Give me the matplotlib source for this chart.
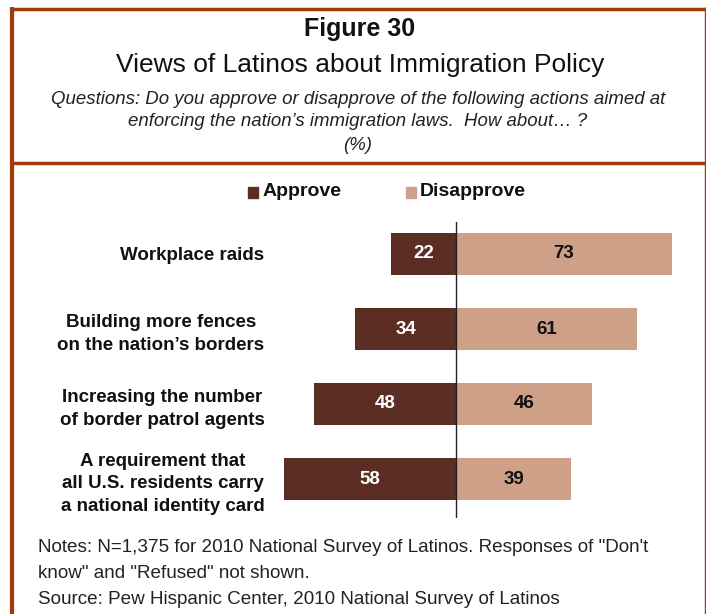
import matplotlib
matplotlib.use("Agg")
import matplotlib.pyplot as plt
from matplotlib.lines import Line2D
from matplotlib.patches import Rectangle

# Survey results (percent)
categories = [
    "Workplace raids",
    "Building more fences\non the nation\u2019s borders",
    "Increasing the number\nof border patrol agents",
    "A requirement that\nall U.S. residents carry\na national identity card",
]
approve = [22, 34, 48, 58]
disapprove = [73, 61, 46, 39]
series_names = ["Approve", "Disapprove"]

APPROVE_COLOR = "#5C2E23"
DISAPPROVE_COLOR = "#CDA087"
FRAME_COLOR = "#A33A0C"
BASE = "Liberation Sans"

W, H = 706, 614
fig = plt.figure(figsize=(W / 100, H / 100), dpi=100)
fig.patch.set_facecolor("white")


def fx(x):
    return x / W


def fy(y):
    return 1 - y / H


# Frame around the figure
frame = dict(color=FRAME_COLOR, transform=fig.transFigure, solid_capstyle="butt")
fig.add_artist(Line2D([fx(12), fx(12)], [fy(7), 0], lw=3.0, **frame))
fig.add_artist(Line2D([fx(10.5), fx(706)], [fy(8.5), fy(8.5)], lw=2.5, **frame))
fig.add_artist(Line2D([fx(704.5), fx(704.5)], [fy(7), 0], lw=1.0, **frame))
fig.add_artist(Line2D([fx(10.5), fx(706)], [fy(162.5), fy(162.5)], lw=2.5, **frame))

# Header text
fig.text(fx(360), fy(29), "Figure 30", ha="center", va="center",
         fontsize=18, fontweight="bold", family=BASE, color="#111111")
fig.text(fx(360), fy(65), "Views of Latinos about Immigration Policy", ha="center",
         va="center", fontsize=19, family=BASE, color="#111111")
fig.text(fx(358), fy(99), "Questions: Do you approve or disapprove of the following actions aimed at",
         ha="center", va="center", fontsize=13.4, style="italic", family=BASE, color="#222222")
fig.text(fx(358), fy(122), "enforcing the nation\u2019s immigration laws.  How about\u2026 ?",
         ha="center", va="center", fontsize=13.4, style="italic", family=BASE, color="#222222")
fig.text(fx(358), fy(145), "(%)", ha="center", va="center", fontsize=13.4,
         style="italic", family=BASE, color="#222222")

# Bar chart axes: zero at x=456, about 2.96 px per percentage point
ax_left, ax_right = 270, 690
ax_top, ax_bottom = 222, 518
ax = fig.add_axes([fx(ax_left), fy(ax_bottom), (ax_right - ax_left) / W, (ax_bottom - ax_top) / H])
scale = 2.96
zero = 456
ax.set_xlim(-(zero - ax_left) / scale, (ax_right - zero) / scale)
ax.set_ylim((ax_bottom - 254) / 75, (ax_top - 254) / 75)

ypos = list(range(len(categories)))
ax.barh(ypos, [-a for a in approve], height=0.56, color=APPROVE_COLOR, label=series_names[0])
ax.barh(ypos, disapprove, height=0.56, color=DISAPPROVE_COLOR, label=series_names[1])
ax.axvline(0, color="#222222", lw=1.0)

for y, a, d in zip(ypos, approve, disapprove):
    ax.text(-a / 2, y, str(a), ha="center", va="center", color="white",
            fontsize=13.5, fontweight="bold", family=BASE)
    ax.text(d / 2, y, str(d), ha="center", va="center", color="#111111",
            fontsize=13.5, fontweight="bold", family=BASE)

ax.set_yticks(ypos)
ax.set_yticklabels(categories, fontsize=13.5, fontweight="bold", family=BASE,
                   multialignment="center", color="#111111", linespacing=1.45)
ax.tick_params(axis="y", length=0, pad=4)
ax.set_xticks([])
for s in ax.spines.values():
    s.set_visible(False)
ax.patch.set_alpha(0)

# Legend
for xs, xt, name, col in [(248, 263, series_names[0], APPROVE_COLOR),
                          (406, 420, series_names[1], DISAPPROVE_COLOR)]:
    fig.add_artist(Rectangle((fx(xs), fy(198)), 10 / W, 11 / H, color=col,
                             transform=fig.transFigure))
    fig.text(fx(xt), fy(192), name, ha="left", va="center", fontsize=14,
             fontweight="bold", family=BASE, color="#111111")

# Notes
note_kw = dict(ha="left", va="center", fontsize=13.6, family=BASE, color="#222222")
fig.text(fx(38), fy(548), "Notes: N=1,375 for 2010 National Survey of Latinos. Responses of \"Don't",
         **note_kw)
fig.text(fx(38), fy(573), "know\" and \"Refused\" not shown.", **note_kw)
fig.text(fx(38), fy(600), "Source: Pew Hispanic Center, 2010 National Survey of Latinos", **note_kw)

fig.savefig("out.png", dpi=100, facecolor="white")
